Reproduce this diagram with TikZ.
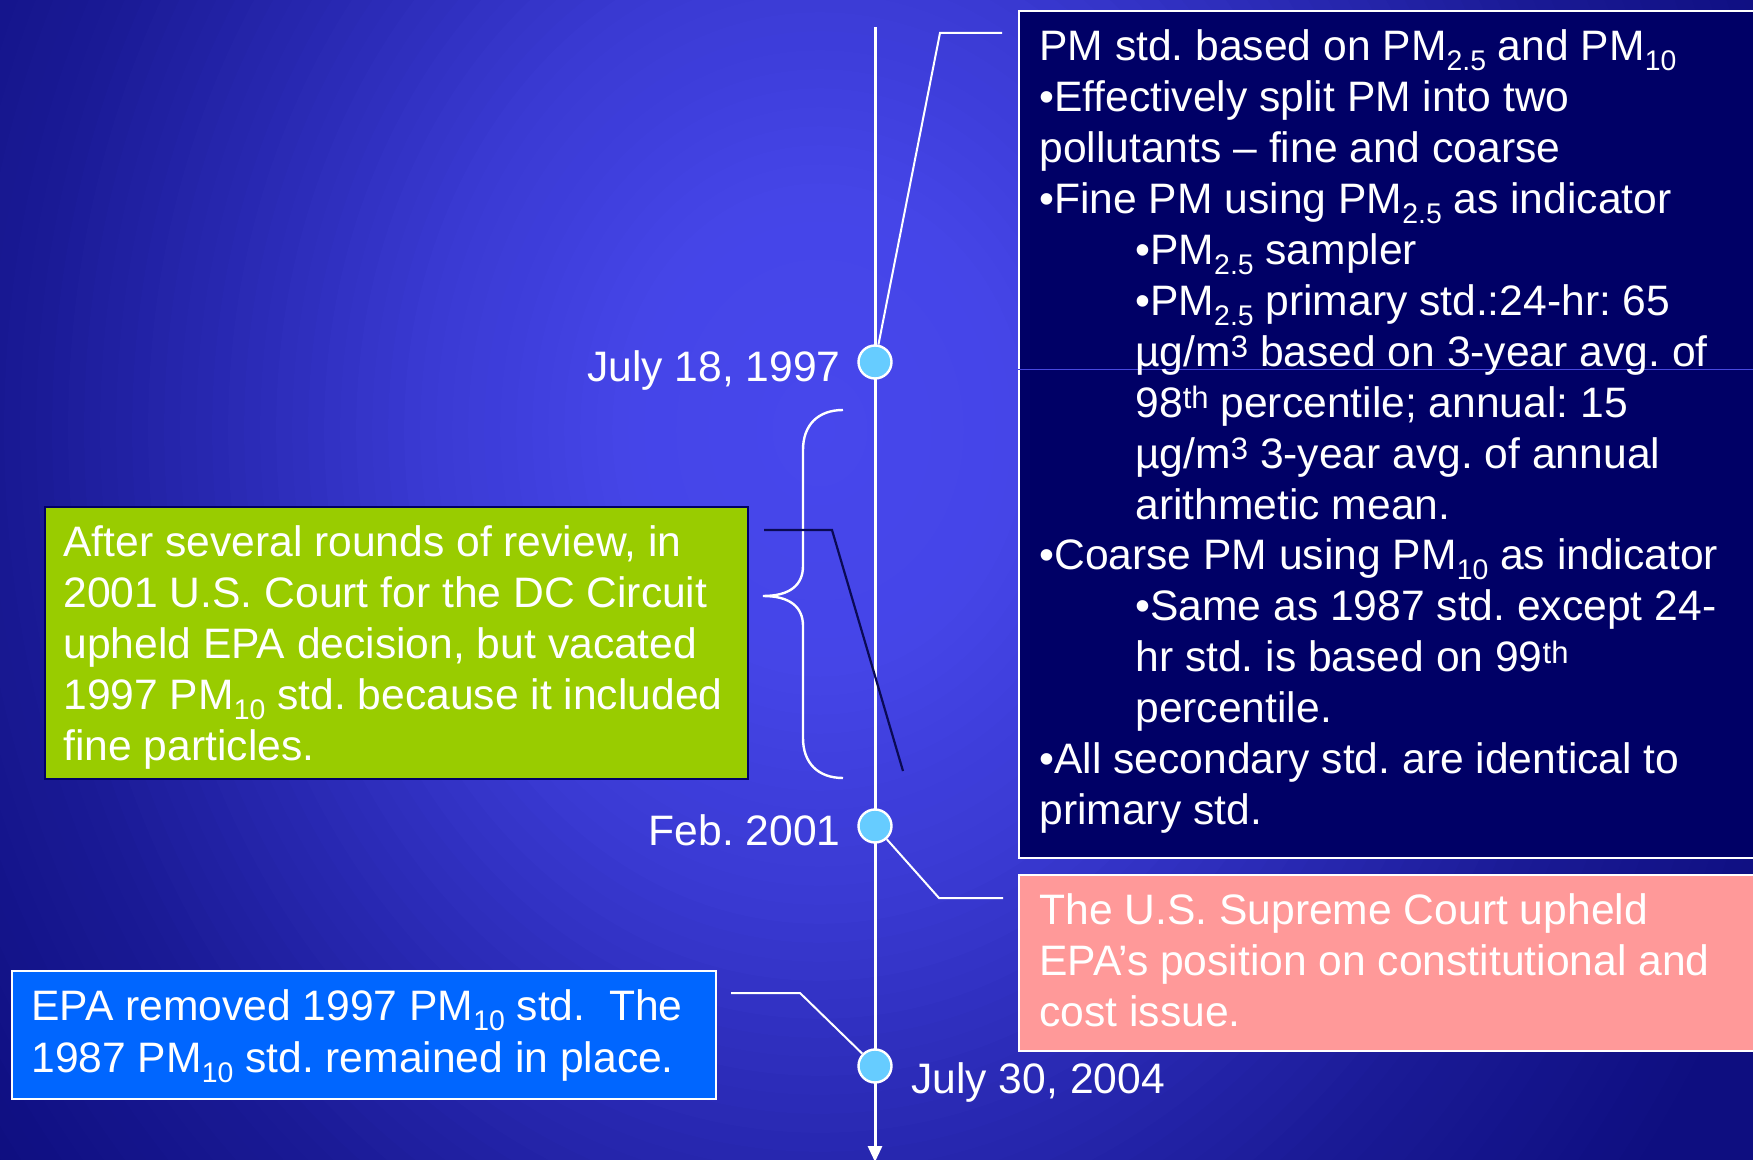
\documentclass[tikz,border=0pt]{standalone}
\usepackage{fontspec}
\setmainfont{Liberation Sans}
\usetikzlibrary{arrows.meta}
\definecolor{bgA}{HTML}{4747EC}
\definecolor{bgB}{HTML}{4545E8}
\definecolor{bgC}{HTML}{3A3AD3}
\definecolor{bgD}{HTML}{2929B3}
\definecolor{bgE}{HTML}{1A1A95}
\definecolor{bgF}{HTML}{0E0E80}
\definecolor{navyfill}{HTML}{000066}
\definecolor{greenfill}{HTML}{99CC00}
\definecolor{bluefill}{HTML}{0066FF}
\definecolor{pinkfill}{HTML}{FF9999}
\definecolor{dotblue}{HTML}{66CCFF}
\definecolor{linknavy}{HTML}{0A0A55}
\definecolor{faintline}{HTML}{4848E0}
\newcommand\bodyfs{\fontsize{21.3}{25.65}\selectfont}
\newcommand\lowtx[1]{\raisebox{-5pt}{\fontsize{14.2}{14.2}\selectfont #1}}
\newcommand\hitx[1]{\raisebox{4.3pt}{\fontsize{15.5}{15.5}\selectfont #1}}
\begin{document}
\frenchspacing
\begin{tikzpicture}[x=0.5pt,y=-0.5pt,
  txt/.style={font=\bodyfs, text=white, inner sep=0pt, anchor=base west},
  boxbase/.style={rectangle, inner sep=0pt, anchor=north west, line width=1.2pt},
  navybox/.style={boxbase, fill=navyfill, draw=white},
  greenbox/.style={boxbase, fill=greenfill, draw=navyfill},
  bluebox/.style={boxbase, fill=bluefill, draw=white},
  pinkbox/.style={boxbase, fill=pinkfill, draw=white},
  dot/.style={circle, fill=dotblue, draw=white, line width=1.2pt, minimum size=16.5pt, inner sep=0pt},
  conn/.style={draw=white, line width=1pt},
  darkconn/.style={draw=linknavy, line width=1.1pt},
  timeline/.style={draw=white, line width=1.5pt, -{Triangle[width=7pt,length=8pt]}},
  bracestyle/.style={draw=white, line width=1.2pt}
]
\useasboundingbox (0,0) rectangle (1753,1160);
\begin{scope}
  \clip (0,0) rectangle (1753,1160);
  \fill[bgF] (0,0) rectangle (1753,1160);
  \foreach \i in {0,...,71}{
    \pgfmathsetmacro\rr{1.44-0.02*\i}
    \ifdim\rr pt>1pt
      \pgfmathsetmacro\pp{min(100,(\rr-1)/0.3*100)}
      \colorlet{cur}{bgF!\pp!bgE}
    \else\ifdim\rr pt>0.75pt
      \pgfmathsetmacro\pp{(\rr-0.75)/0.25*100}
      \colorlet{cur}{bgE!\pp!bgD}
    \else\ifdim\rr pt>0.5pt
      \pgfmathsetmacro\pp{(\rr-0.5)/0.25*100}
      \colorlet{cur}{bgD!\pp!bgC}
    \else\ifdim\rr pt>0.25pt
      \pgfmathsetmacro\pp{(\rr-0.25)/0.25*100}
      \colorlet{cur}{bgC!\pp!bgB}
    \else
      \pgfmathsetmacro\pp{\rr/0.25*100}
      \colorlet{cur}{bgB!\pp!bgA}
    \fi\fi\fi\fi
    \fill[cur] (820,430) ellipse [x radius=\rr*400pt, y radius=\rr*475pt];
  }
\end{scope}

% boxes
\node[navybox, minimum width=381pt, minimum height=423.5pt] (navy) at (1018,10) {};
\node[pinkbox, minimum width=381pt, minimum height=88pt] (pink) at (1018,874) {};
\node[greenbox, minimum width=351.5pt, minimum height=136pt] (green) at (44,506) {};
\node[bluebox, minimum width=352pt, minimum height=64pt] (blue) at (11,970) {};
\draw[faintline, line width=0.5pt] (1018,370) -- (1753,370);

% navy box text
\node[txt] (n1) at (1039,61) {PM std. based on PM\lowtx{2.5} and PM\lowtx{10}};
\node[txt] (n2) at (1039,111.9) {•Effectively split PM into two};
\node[txt] (n3) at (1039,162.8) {pollutants – fine and coarse};
\node[txt] (n4) at (1039,213.7) {•Fine PM using PM\lowtx{2.5} as indicator};
\node[txt] (n5) at (1135,264.6) {•PM\lowtx{2.5} sampler};
\node[txt] (n6) at (1135,315.5) {•PM\lowtx{2.5} primary std.:24-hr: 65};
\node[txt] (n7) at (1135,366.4) {µg/m\hitx{3} based on 3-year avg. of};
\node[txt] (n8) at (1135,417.3) {98\hitx{th} percentile; annual: 15};
\node[txt] (n9) at (1135,468.2) {µg/m\hitx{3} 3-year avg. of annual};
\node[txt] (n10) at (1135,519.1) {arithmetic mean.};
\node[txt] (n11) at (1039,570) {•Coarse PM using PM\lowtx{10} as indicator};
\node[txt] (n12) at (1135,620.9) {•Same as 1987 std. except 24-};
\node[txt] (n13) at (1135,671.8) {hr std. is based on 99\hitx{th}};
\node[txt] (n14) at (1135,722.7) {percentile.};
\node[txt] (n15) at (1039,773.6) {•All secondary std. are identical to};
\node[txt] (n16) at (1039,824.5) {primary std.};

% pink box text
\node[txt] (p1) at (1039,924) {The U.S. Supreme Court upheld};
\node[txt] (p2) at (1039,975) {EPA’s position on constitutional and};
\node[txt] (p3) at (1039,1026) {cost issue.};

% green box text
\node[txt] (g1) at (63,557) {After several rounds of review, in};
\node[txt] (g2) at (63,608) {2001 U.S. Court for the DC Circuit};
\node[txt] (g3) at (63,659) {upheld EPA decision, but vacated};
\node[txt] (g4) at (63,710) {1997 PM\lowtx{10} std. because it included};
\node[txt] (g5) at (63,761) {fine particles.};

% blue box text
\node[txt] (b1) at (31,1020) {EPA removed 1997 PM\lowtx{10} std.\ \ The};
\node[txt] (b2) at (31,1072) {1987 PM\lowtx{10} std. remained in place.};

% timeline
\coordinate (top) at (875,27);
\coordinate (bot) at (875,1162);
\draw[timeline] (top) -- (bot);

% brace
\draw[bracestyle] (843,410) .. controls (818,410) and (803,425) .. (803,450)
  -- (803,566) .. controls (803,585) and (790,596) .. (763,596)
  .. controls (790,596) and (803,607) .. (803,626)
  -- (803,738) .. controls (803,763) and (818,778) .. (843,778);

% dots
\node[dot] (d1) at (875,362) {};
\node[dot] (d2) at (875,826) {};
\node[dot] (d3) at (875,1066) {};

% date labels
\node[txt, anchor=base east] (lab1) at (841,382) {July 18, 1997};
\node[txt, anchor=base east] (lab2) at (841,845) {Feb. 2001};
\node[txt] (lab3) at (911,1093) {July 30, 2004};

% connectors
\coordinate (c1a) at (1002,33);
\coordinate (c1b) at (940,33);
\draw[conn] (c1a) -- (c1b) -- (d1);
\coordinate (c2a) at (1003,898);
\coordinate (c2b) at (939,898);
\draw[conn] (c2a) -- (c2b) -- (d2);
\coordinate (c3a) at (731,993);
\coordinate (c3b) at (800,993);
\draw[conn] (c3a) -- (c3b) -- (d3);
\coordinate (c4a) at (764,530);
\coordinate (c4b) at (832,530);
\coordinate (c4c) at (903,771);
\draw[darkconn] (c4a) -- (c4b) -- (c4c);
\end{tikzpicture}
\end{document}
